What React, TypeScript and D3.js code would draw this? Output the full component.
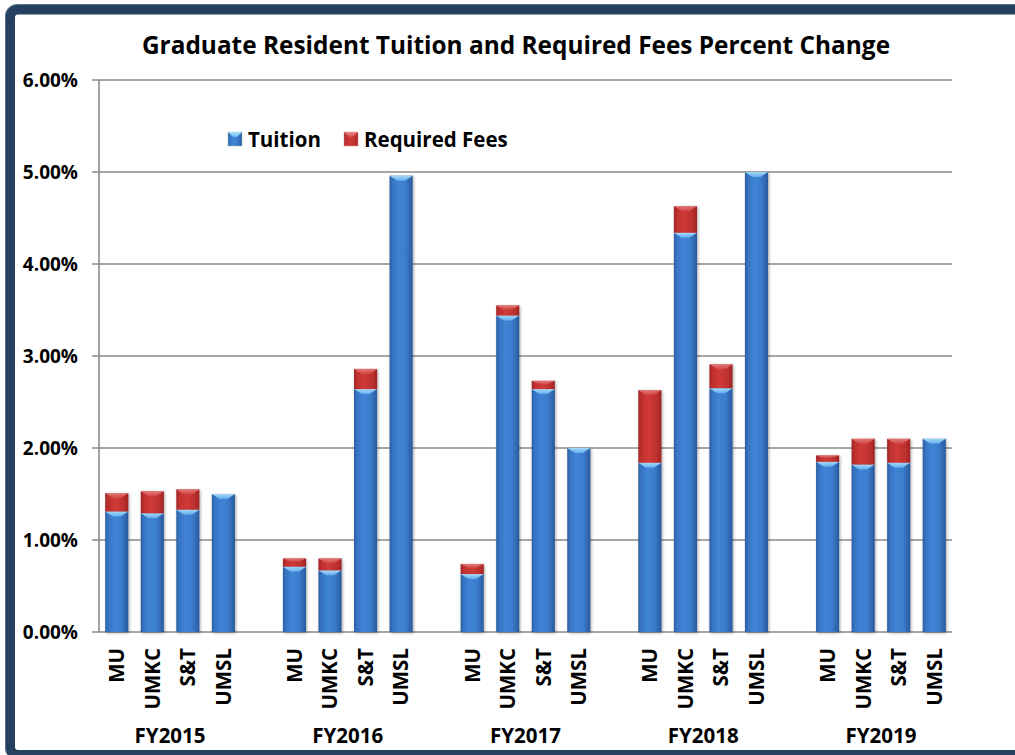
import React from "react";
import * as d3 from "d3";

const years = ["FY2015", "FY2016", "FY2017", "FY2018", "FY2019"];
const campuses = ["MU", "UMKC", "S&T", "UMSL"];
const tuition = [
  1.31, 1.29, 1.33, 1.5,
  0.71, 0.67, 2.64, 4.96,
  0.63, 3.44, 2.64, 2.0,
  1.84, 4.34, 2.65, 5.0,
  1.85, 1.82, 1.84, 2.1,
];
const fees = [
  0.2, 0.24, 0.22, 0,
  0.09, 0.13, 0.22, 0,
  0.11, 0.11, 0.09, 0,
  0.79, 0.29, 0.26, 0,
  0.07, 0.28, 0.26, 0,
];
const yTicks = [0, 1, 2, 3, 4, 5, 6];
const title = "Graduate Resident Tuition and Required Fees Percent Change";

const W = 1015;
const H = 755;
const FONT = "'Open Sans', 'DejaVu Sans', sans-serif";

export default function App() {
  const left = 99;
  const right = 952;
  const y = d3.scaleLinear().domain([0, 6]).range([632, 80]);

  // slot keys: each year has 4 slots followed by one gap slot (except last)
  const slots: string[] = [];
  years.forEach((yr, g) => {
    campuses.forEach((c) => slots.push(yr + "|" + c));
    if (g < years.length - 1) slots.push("gap" + g);
  });
  const x = d3
    .scaleBand<string>()
    .domain(slots)
    .range([left, right])
    .paddingInner(0.35)
    .paddingOuter(0.175);
  const bw = x.bandwidth();

  const bars = years.flatMap((yr, g) =>
    campuses.map((c, i) => {
      const k = g * campuses.length + i;
      return { key: yr + "|" + c, campus: c, year: yr, t: tuition[k], f: fees[k] };
    })
  );

  const bevel = (x0: number, yTop: number, w: number, h: number) => {
    const b = Math.min(8, w * 0.33);
    return `M${x0},${yTop}L${x0 + w},${yTop}L${x0 + w - b},${yTop + h}L${x0 + b},${yTop + h}Z`;
  };

  return (
    <svg
      width={W}
      height={H}
      style={{ position: "absolute", left: 0, top: 0, display: "block", background: "#fff" }}
      fontFamily={FONT}
    >
      <defs>
        <linearGradient id="gBlue" x1="0" x2="1" y1="0" y2="0">
          <stop offset="0" stopColor="#2b5d9f" />
          <stop offset="0.12" stopColor="#3673c2" />
          <stop offset="0.4" stopColor="#3f84d5" />
          <stop offset="0.7" stopColor="#3b7ccb" />
          <stop offset="0.9" stopColor="#2f66ad" />
          <stop offset="1" stopColor="#28579a" />
        </linearGradient>
        <linearGradient id="gRed" x1="0" x2="1" y1="0" y2="0">
          <stop offset="0" stopColor="#a02426" />
          <stop offset="0.15" stopColor="#c0312f" />
          <stop offset="0.45" stopColor="#d03a38" />
          <stop offset="0.85" stopColor="#b82e2d" />
          <stop offset="1" stopColor="#9c2224" />
        </linearGradient>
        <linearGradient id="gBlueTop" x1="0" x2="0" y1="0" y2="1">
          <stop offset="0" stopColor="#b3e3fd" />
          <stop offset="1" stopColor="#62b2f0" />
        </linearGradient>
        <linearGradient id="gRedTop" x1="0" x2="0" y1="0" y2="1">
          <stop offset="0" stopColor="#e98a88" />
          <stop offset="1" stopColor="#d24a48" />
        </linearGradient>
        <filter id="shadow" x="-30%" y="-5%" width="160%" height="115%">
          <feGaussianBlur in="SourceAlpha" stdDeviation="1.5" />
          <feOffset dx="1" dy="1" result="b" />
          <feComponentTransfer>
            <feFuncA type="linear" slope="0.35" />
          </feComponentTransfer>
          <feMerge>
            <feMergeNode />
            <feMergeNode in="SourceGraphic" />
          </feMerge>
        </filter>
      </defs>

      <rect x={0} y={0} width={W} height={H} fill="#fff" />
      <rect
        x={10}
        y={9.5}
        width={1040}
        height={745.5}
        rx={8}
        fill="#fff"
        stroke="#254061"
        strokeWidth={10}
      />
      <rect x={5.5} y={4.5} width={1050} height={755} rx={11} fill="none" stroke="#5a7393" strokeWidth={1} />

      <text x={516} y={54} textAnchor="middle" fontSize={24.4} fontWeight={700} fill="#000">
        {title}
      </text>

      {/* gridlines */}
      {yTicks.map((t) => (
        <g key={t}>
          <line x1={92} x2={right} y1={y(t)} y2={y(t)} stroke="#8a8a8a" strokeWidth={1.6} />
          <text
            x={78}
            y={y(t)}
            dy="0.36em"
            textAnchor="end"
            fontSize={19}
            fontWeight={700}
            fill="#000"
          >
            {t.toFixed(2) + "%"}
          </text>
        </g>
      ))}
      <line x1={left} x2={left} y1={y(6)} y2={y(0)} stroke="#8a8a8a" strokeWidth={1.6} />

      {/* bars */}
      {bars.map((d) => {
        const x0 = x(d.key)!;
        const yT = y(d.t);
        const yF = y(d.t + d.f);
        return (
          <g key={d.key} filter="url(#shadow)">
            <rect x={x0} y={yT} width={bw} height={y(0) - yT} fill="url(#gBlue)" />
            <path d={bevel(x0, yT, bw, 5)} fill="url(#gBlueTop)" opacity={0.9} />
            {d.f > 0 && (
              <>
                <rect x={x0} y={yF} width={bw} height={yT - yF} fill="url(#gRed)" />
                <path d={bevel(x0, yF, bw, Math.min(5, (yT - yF) * 0.4))} fill="url(#gRedTop)" opacity={0.8} />
              </>
            )}
          </g>
        );
      })}

      {/* campus labels */}
      {bars.map((d) => {
        const cx = x(d.key)! + bw / 2;
        return (
          <text
            key={"l" + d.key}
            transform={`translate(${cx},648) rotate(-90)`}
            textAnchor="end"
            dy="0.36em"
            fontSize={20.5}
            fontWeight={700}
            fill="#000"
          >
            {d.campus}
          </text>
        );
      })}

      {/* year labels */}
      {years.map((yr) => {
        const a = x(yr + "|" + campuses[0])!;
        const b = x(yr + "|" + campuses[campuses.length - 1])! + bw;
        return (
          <text
            key={yr}
            x={(a + b) / 2}
            y={743}
            textAnchor="middle"
            fontSize={20.5}
            fontWeight={700}
            fill="#000"
          >
            {yr}
          </text>
        );
      })}

      {/* legend */}
      <g>
        <rect x={228} y={132} width={14} height={14} fill="url(#gBlue)" stroke="#9bb" strokeWidth={0.5} />
        <path d="M228,132L242,132L237,137L233,137Z" fill="url(#gBlueTop)" />
        <text x={248} y={146.5} fontSize={20.5} fontWeight={700} fill="#000">
          Tuition
        </text>
        <rect x={344} y={132} width={14} height={14} fill="url(#gRed)" stroke="#c99" strokeWidth={0.5} />
        <path d="M344,132L358,132L353,137L349,137Z" fill="url(#gRedTop)" />
        <text x={364} y={146.5} fontSize={20.5} fontWeight={700} fill="#000">
          Required Fees
        </text>
      </g>
    </svg>
  );
}
